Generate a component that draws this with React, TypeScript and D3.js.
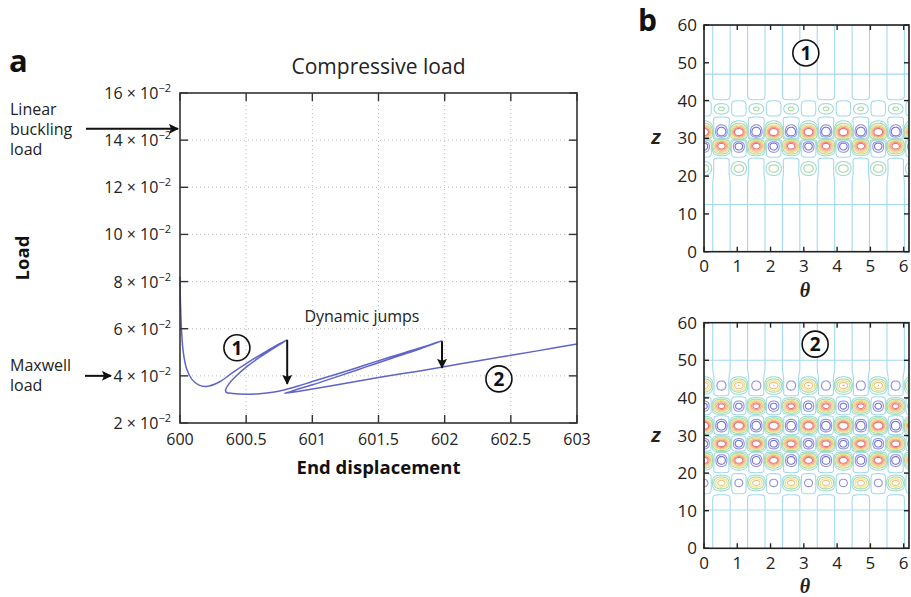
import React from "react";
import * as d3 from "d3";

const W = 911;
const H = 597;

// ---------- Panel a data ----------
const dispX = [
  600.0, 600.004, 600.012, 600.025, 600.05, 600.09, 600.14, 600.2, 600.3, 600.4, 600.5, 600.6, 600.7, 600.81,
  600.7, 600.6, 600.5, 600.42, 600.37, 600.345, 600.35, 600.4, 600.5, 600.6, 600.7, 600.8, 600.9, 601.0,
  601.2, 601.4, 601.6, 601.8, 601.98,
  601.8, 601.6, 601.4, 601.2, 601.0, 600.9, 600.83, 600.79,
  600.85, 600.9, 601.2, 601.5, 601.8, 602.1, 602.4, 602.7, 603.0,
];
const loadY = [
  0.082, 0.07, 0.059, 0.05, 0.043, 0.0385, 0.0362, 0.0355, 0.0375, 0.0415, 0.0452, 0.0487, 0.052, 0.0553,
  0.0515, 0.0478, 0.0437, 0.0397, 0.0366, 0.0342, 0.033, 0.0325, 0.0322, 0.0324, 0.033, 0.0342, 0.0358, 0.0376,
  0.041, 0.0446, 0.0482, 0.0516, 0.0549,
  0.0512, 0.0475, 0.0437, 0.0399, 0.0362, 0.0345, 0.0332, 0.0326,
  0.033, 0.0335, 0.0363, 0.0393, 0.042, 0.0449, 0.0478, 0.0506, 0.0535,
];
const xTicksA = [600, 600.5, 601, 601.5, 602, 602.5, 603];
const xTickLabelsA = ["600", "600.5", "601", "601.5", "602", "602.5", "603"];
const yTicksA = [0.02, 0.04, 0.06, 0.08, 0.1, 0.12, 0.14, 0.16];
const yTickMantissa = ["2", "4", "6", "8", "10", "12", "14", "16"];
const jumpX = [600.81, 601.98];
const jumpFrom = [0.0552, 0.0547];
const jumpTo = [0.0366, 0.0434];
const linearBucklingLoad = 0.1448;
const maxwellLoad = 0.04;
const circleA1 = { x: 600.43, y: 0.0519, label: "1" };
const circleA2 = { x: 602.41, y: 0.0387, label: "2" };
const dynamicJumpsPos = { x: 600.94, y: 0.0628 };

// ---------- Panel b data ----------
const thetaTicks = [0, 1, 2, 3, 4, 5, 6];
const zTicks = [0, 10, 20, 30, 40, 50, 60];
const THETA_MAX = 6.16;
const WAVE_NUMBER = 6;

const mode1Z = [37.8, 31.6, 28.0, 22.0];
const mode1Amp = [0.28, 1.0, 1.0, 0.28];
const mode1Phase = [0.5, 0, 0.5, 0];
const mode1Width = [1.1, 1.3, 1.3, 1.1];
const mode1ZeroRows = [12.5, 47];
const mode1Offset = 0.22;

const mode2Z = [43.3, 37.8, 32.6, 27.8, 23.4, 17.4];
const mode2Amp = [0.62, 0.92, 1.0, 1.0, 0.92, 0.62];
const mode2Phase = [0, 0.5, 0, 0.5, 0, 0.5];
const mode2Width = [1.15, 1.15, 1.15, 1.15, 1.15, 1.15];
const mode2ZeroRows = [10.2, 50];
const mode2Offset = 0.25;

const contourLevels = [-0.5, -0.29, 0, 0.12, 0.27, 0.45, 0.62, 0.8, 0.95];
const contourColors = [
  "#7573cc", "#9391dd", "#a3d9f0", "#9cdad6", "#a6d99c", "#e6e183", "#f4c183", "#f19a80", "#e6737a",
];

const FONT = "'Open Sans', 'Noto Sans', sans-serif";

// layout
const A = { left: 180, right: 577, top: 93, bottom: 423 };
const B1 = { left: 704, right: 909, top: 25, bottom: 251.7 };
const B2 = { left: 704, right: 909, top: 322.7, bottom: 548.3 };

function buildField(zs: number[], amps: number[], phases: number[], widths: number[], zeroRows: number[], offset: number, nx: number, nz: number) {
  const values = new Float64Array(nx * nz);
  const dth = THETA_MAX / (nx - 1);
  const dz = 60 / (nz - 1);
  const half = (zeroRows[1] - zeroRows[0]) / 2;
  for (let j = 0; j < nz; j++) {
    const z = j * dz;
    const bg = (0.05 * (z - zeroRows[0]) * (zeroRows[1] - z)) / (half * half);
    for (let i = 0; i < nx; i++) {
      const th = i * dth;
      let v = bg * Math.cos(WAVE_NUMBER * th);
      for (let k = 0; k < zs.length; k++) {
        const g = Math.exp(-((z - zs[k]) ** 2) / (2 * widths[k] ** 2));
        v += amps[k] * g * (Math.cos(WAVE_NUMBER * th - 2 * Math.PI * phases[k]) + offset);
      }
      values[j * nx + i] = v;
    }
  }
  return values;
}

function ContourPanel({ box, zs, amps, phases, widths, zeroRows, offset, id, circle, labelBase }: any) {
  const nx = 250, nz = 300;
  const xs = d3.scaleLinear().domain([0, THETA_MAX]).range([box.left, box.right]);
  const ys = d3.scaleLinear().domain([0, 60]).range([box.bottom, box.top]);
  const values = buildField(zs, amps, phases, widths, zeroRows, offset, nx, nz);
  const dth = THETA_MAX / (nx - 1);
  const dz = 60 / (nz - 1);
  const contours = d3.contours().size([nx, nz]).thresholds(contourLevels)(Array.from(values));
  const path = d3.geoPath(
    d3.geoTransform({
      point(x: number, y: number) {
        (this as any).stream.point(xs((x - 0.5) * dth), ys((y - 0.5) * dz));
      },
    })
  );
  const tick = 5;
  return (
    <g>
      <defs>
        <clipPath id={id}>
          <rect x={box.left} y={box.top} width={box.right - box.left} height={box.bottom - box.top} />
        </clipPath>
      </defs>
      <rect x={box.left} y={box.top} width={box.right - box.left} height={box.bottom - box.top} fill="#fff" />
      <g clipPath={`url(#${id})`}>
        {contours.map((c: any, i: number) => (
          <path key={i} d={path(c) || ""} fill="none" stroke={contourColors[i]} strokeWidth={1.1} />
        ))}
      </g>
      {/* frame */}
      <rect x={box.left} y={box.top} width={box.right - box.left} height={box.bottom - box.top} fill="none" stroke="#222" strokeWidth={1.6} />
      {zTicks.map((t) => (
        <g key={"z" + t}>
          <line x1={box.left} x2={box.left + tick} y1={ys(t)} y2={ys(t)} stroke="#222" strokeWidth={1.4} />
          <line x1={box.right} x2={box.right - tick} y1={ys(t)} y2={ys(t)} stroke="#222" strokeWidth={1.4} />
          <text x={box.left - 7} y={ys(t) + 6} textAnchor="end" fontSize={17} fontFamily={FONT} fill="#222">{t}</text>
        </g>
      ))}
      {thetaTicks.map((t) => (
        <g key={"t" + t}>
          <line x1={xs(t)} x2={xs(t)} y1={box.bottom} y2={box.bottom - tick} stroke="#222" strokeWidth={1.4} />
          <line x1={xs(t)} x2={xs(t)} y1={box.top} y2={box.top + tick} stroke="#222" strokeWidth={1.4} />
          <text x={xs(t)} y={box.bottom + 20.5} textAnchor="middle" fontSize={17} fontFamily={FONT} fill="#222">{t}</text>
        </g>
      ))}
      <text x={805} y={box.bottom + 45} textAnchor="middle" fontSize={20} fontFamily="'Liberation Serif', serif" fontWeight="bold" fontStyle="italic" fill="#222">θ</text>
      <text x={656} y={ys(30) + 6} textAnchor="middle" fontSize={20} fontFamily="'Liberation Sans', sans-serif" fontWeight="bold" fontStyle="italic" fill="#222">z</text>
      <circle cx={xs(circle.x)} cy={ys(circle.y)} r={13} fill="#fff" stroke="#111" strokeWidth={1.6} />
      <text x={xs(circle.x)} y={ys(circle.y) + 7} textAnchor="middle" fontSize={19} fontWeight="bold" fontFamily={FONT} fill="#111">{labelBase}</text>
    </g>
  );
}

export default function App() {
  const x = d3.scaleLinear().domain([600, 603]).range([A.left, A.right]);
  const y = d3.scaleLinear().domain([0.02, 0.16]).range([A.bottom, A.top]);
  const pts = dispX.map((d, i) => [d, loadY[i]] as [number, number]);
  const line = d3
    .line<[number, number]>()
    .x((d) => x(d[0]))
    .y((d) => y(d[1]))
    .curve(d3.curveCatmullRom.alpha(0.5));
  const tickLen = 8;
  const lbY = y(linearBucklingLoad);
  const mxY = y(maxwellLoad);

  return (
    <svg width={W} height={H} style={{ display: "block", position: "absolute", left: 0, top: 0 }} fontFamily={FONT}>
      <defs>
        <marker id="ah" viewBox="0 0 10 10" refX={9} refY={5} markerWidth={5} markerHeight={5} orient="auto" markerUnits="strokeWidth">
          <path d="M0,0 L10,5 L0,10 L2,5 Z" fill="#111" />
        </marker>
      </defs>
      <rect x={0} y={0} width={W} height={H} fill="#fff" />

      {/* panel letters */}
      <text x={9} y={72} fontSize={31} fontWeight="bold" fontFamily={FONT} fill="#111">a</text>
      <text x={638} y={31} fontSize={30} fontWeight="bold" fontFamily={FONT} fill="#111">b</text>

      {/* Title */}
      <text x={(A.left + A.right) / 2} y={74} textAnchor="middle" fontSize={21} fill="#222">Compressive load</text>

      {/* grid */}
      {xTicksA.slice(1, -1).map((t) => (
        <line key={"gx" + t} x1={x(t)} x2={x(t)} y1={A.top} y2={A.bottom} stroke="#bdbdbd" strokeWidth={1} strokeDasharray="1,3" />
      ))}
      {yTicksA.slice(1, -1).map((t) => (
        <line key={"gy" + t} x1={A.left} x2={A.right} y1={y(t)} y2={y(t)} stroke="#bdbdbd" strokeWidth={1} strokeDasharray="1,3" />
      ))}

      {/* curve */}
      <path d={line(pts) || ""} fill="none" stroke="#6064c8" strokeWidth={1.5} />

      {/* frame */}
      <rect x={A.left} y={A.top} width={A.right - A.left} height={A.bottom - A.top} fill="none" stroke="#333" strokeWidth={1.6} />
      {xTicksA.map((t, i) => (
        <g key={"xt" + t}>
          <line x1={x(t)} x2={x(t)} y1={A.bottom} y2={A.bottom - tickLen} stroke="#333" strokeWidth={1.4} />
          <line x1={x(t)} x2={x(t)} y1={A.top} y2={A.top + tickLen} stroke="#333" strokeWidth={1.4} />
          <text x={x(t)} y={A.bottom + 22} textAnchor="middle" fontSize={16} fill="#222">{xTickLabelsA[i]}</text>
        </g>
      ))}
      {yTicksA.map((t, i) => (
        <g key={"yt" + t}>
          <line x1={A.left} x2={A.left + tickLen} y1={y(t)} y2={y(t)} stroke="#333" strokeWidth={1.4} />
          <line x1={A.right} x2={A.right - tickLen} y1={y(t)} y2={y(t)} stroke="#333" strokeWidth={1.4} />
          <text x={171} y={y(t) + 6} textAnchor="end" fontSize={16} fill="#222">
            {yTickMantissa[i]} × 10<tspan dy={-7} fontSize={11}>−2</tspan>
          </text>
        </g>
      ))}

      {/* axis titles */}
      <text x={(A.left + A.right) / 2} y={474} textAnchor="middle" fontSize={18.5} fontWeight="bold" fill="#111">End displacement</text>
      <text transform={`translate(29,258) rotate(-90)`} textAnchor="middle" fontSize={18.5} fontWeight="bold" fill="#111">Load</text>

      {/* jumps */}
      {jumpX.map((jx, i) => (
        <line key={"j" + i} x1={x(jx)} x2={x(jx)} y1={y(jumpFrom[i])} y2={y(jumpTo[i])} stroke="#111" strokeWidth={2} markerEnd="url(#ah)" />
      ))}
      <text x={x(dynamicJumpsPos.x)} y={y(dynamicJumpsPos.y)} fontSize={16} fill="#222">Dynamic jumps</text>

      {/* circled labels */}
      {[circleA1, circleA2].map((c) => (
        <g key={c.label}>
          <circle cx={x(c.x)} cy={y(c.y)} r={13} fill="#fff" fillOpacity={0} stroke="#111" strokeWidth={1.6} />
          <text x={x(c.x)} y={y(c.y) + 7} textAnchor="middle" fontSize={19} fontWeight="bold" fill="#111">{c.label}</text>
        </g>
      ))}

      {/* left annotations */}
      <text x={10} y={115} fontSize={16} fill="#222">
        <tspan x={10} dy={0}>Linear</tspan>
        <tspan x={10} dy={20}>buckling</tspan>
        <tspan x={10} dy={20}>load</tspan>
      </text>
      <line x1={86} x2={178} y1={lbY} y2={lbY} stroke="#111" strokeWidth={2} markerEnd="url(#ah)" />
      <text x={10} y={371} fontSize={16} fill="#222">
        <tspan x={10} dy={0}>Maxwell</tspan>
        <tspan x={10} dy={20}>load</tspan>
      </text>
      <line x1={85} x2={111} y1={mxY} y2={mxY} stroke="#111" strokeWidth={2} markerEnd="url(#ah)" />

      {/* panel b */}
      <ContourPanel box={B1} zs={mode1Z} amps={mode1Amp} phases={mode1Phase} widths={mode1Width} zeroRows={mode1ZeroRows} offset={mode1Offset} id="clip1" circle={{ x: 3.06, y: 52.6 }} labelBase="1" />
      <ContourPanel box={B2} zs={mode2Z} amps={mode2Amp} phases={mode2Phase} widths={mode2Width} zeroRows={mode2ZeroRows} offset={mode2Offset} id="clip2" circle={{ x: 3.34, y: 54.3 }} labelBase="2" />
    </svg>
  );
}
